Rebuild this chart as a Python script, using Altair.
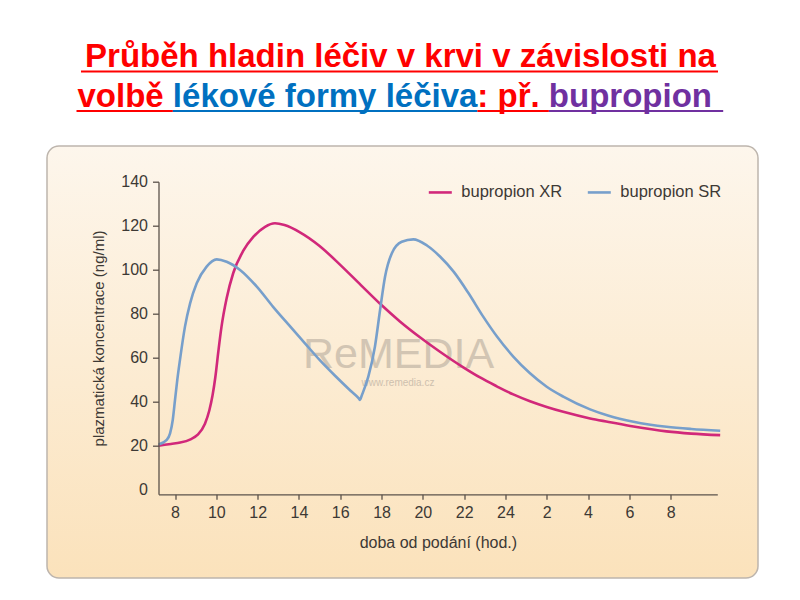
import altair as alt
import pandas as pd

# ---------------- data ----------------
series = ["bupropion XR", "bupropion SR"]
colors = ["#d1287a", "#779fcb"]

hours_xr = [7.2, 7.8, 8.25, 8.75, 9.1, 9.45, 9.66, 9.82, 9.95, 10.1, 10.25, 10.5, 10.82,
            11.3, 11.8, 12.36, 12.84, 13.3, 14.05, 15.0, 16.0, 17.0, 17.93, 18.89, 19.86,
            20.83, 21.96, 22.77, 23.58, 24.38, 25.19, 26.0, 26.8, 28.1, 29.0, 30.2, 31.8, 33.0, 34.4]
vals_xr = [20.0, 20.8, 21.4, 22.9, 25.0, 30.0, 36.0, 43.0, 51.0, 63.0, 74.0, 87.0, 98.5,
           108.5, 115.0, 119.5, 121.1, 120.3, 117.0, 110.8, 102.2, 93.0, 84.5, 76.5, 69.3,
           62.7, 55.6, 51.0, 47.0, 43.3, 40.2, 37.6, 35.4, 32.4, 30.8, 28.7, 26.5, 25.5, 24.8]

hours_sr = [7.2, 7.6, 7.76, 7.89, 8.0, 8.11, 8.24, 8.48, 8.73, 9.05, 9.53, 10.02, 10.5,
            11.15, 11.96, 12.76, 13.5, 14.25, 15.0, 15.75, 16.5, 16.9, 16.96, 17.03, 17.36,
            17.68, 17.93, 18.17, 18.5, 18.98, 19.54, 20.2, 20.83, 21.5, 22.2, 22.9, 23.6,
            24.38, 25.19, 26.0, 26.8, 28.1, 29.0, 30.2, 31.8, 33.0, 34.4]
vals_sr = [20.5, 22.6, 25.6, 31.7, 40.8, 49.9, 59.0, 74.0, 84.7, 93.8, 101.4, 104.7, 103.6,
           99.9, 92.3, 83.0, 75.0, 67.0, 59.0, 51.8, 45.0, 41.5, 40.8, 42.5, 51.4,
           65.0, 81.7, 96.8, 107.5, 112.7, 113.8, 111.0, 106.0, 99.0, 89.5, 79.0, 69.5,
           60.5, 52.9, 46.8, 42.3, 36.5, 33.6, 30.9, 28.6, 27.6, 26.8]

x_ticks = list(range(8, 33, 2))
y_ticks = [0, 20, 40, 60, 80, 100, 120, 140]

x_title = "doba od podání (hod.)"
y_title = "plazmatická koncentrace (ng/ml)"

title_line1 = "Průběh hladin léčiv v krvi v závislosti na"
title_line2 = [("volbě ", "#ff0000"), ("lékové formy léčiva", "#0070c0"),
               (": př. ", "#ff0000"), ("bupropion ", "#7030a0")]
watermark = "ReMEDIA"
watermark_url = "www.remedia.cz"

df = pd.concat([
    pd.DataFrame({"h": hours_xr, "v": vals_xr, "s": series[0]}),
    pd.DataFrame({"h": hours_sr, "v": vals_sr, "s": series[1]}),
], ignore_index=True)

# ---------------- layout (page pixels -> plot pixels) ----------------
OX, OY = 158.5, 181.7          # plot origin on the page
W, H = 558.8, 312.6
PAD_L, PAD_T = OX - 8, OY - 8
PAD_R = 784 - PAD_L - W
PAD_B = 584 - PAD_T - H


def px(x):
    return x - OX


def py(y):
    return y - OY


def one():
    return pd.DataFrame({"k": [0]})


FONT = "Liberation Sans"
AXIS_COLOR = "#5b524b"
TEXT_COLOR = "#3d3935"

# background panel with gradient
panel = alt.Chart(one()).mark_rect(
    color=alt.Gradient(
        gradient="linear",
        stops=[alt.GradientStop(color="#fdf6ec", offset=0),
               alt.GradientStop(color="#fbe2bb", offset=1)],
        x1=0, x2=0, y1=0, y2=1),
    cornerRadius=12, stroke="#bdb5ad", strokeWidth=1.5,
).encode(x=alt.value(px(47)), x2=alt.value(px(758)),
         y=alt.value(py(146)), y2=alt.value(py(578)))

wm1 = alt.Chart(one()).mark_text(
    text=watermark, font=FONT, fontSize=43, color="#a0968c", opacity=0.45,
    align="center", baseline="alphabetic",
).encode(x=alt.value(px(398.5)), y=alt.value(py(368)))
wm2 = alt.Chart(one()).mark_text(
    text=watermark_url, font=FONT, fontSize=10, color="#a0968c", opacity=0.5,
    align="center", baseline="alphabetic",
).encode(x=alt.value(px(398)), y=alt.value(py(386)))

lines = alt.Chart(df).mark_line(strokeWidth=2.6, interpolate="monotone").encode(
    x=alt.X("h:Q",
            scale=alt.Scale(domain=[7.2, 34.26], nice=False, zero=False),
            axis=alt.Axis(values=x_ticks,
                          labelExpr="datum.value > 24 ? '' + (datum.value - 24) : datum.label",
                          grid=False, title=x_title, zindex=1,
                          domainColor=AXIS_COLOR, tickColor=AXIS_COLOR,
                          domainWidth=1.3, tickWidth=1.3, tickSize=5,
                          labelFont=FONT, labelFontSize=16, labelColor=TEXT_COLOR,
                          labelPadding=5,
                          titleFont=FONT, titleFontSize=16, titleFontWeight="normal",
                          titleColor=TEXT_COLOR, titlePadding=14)),
    y=alt.Y("v:Q",
            scale=alt.Scale(domain=[-2.1, 140], nice=False, zero=False),
            axis=alt.Axis(values=y_ticks, grid=False, title=y_title, zindex=1,
                          domainColor=AXIS_COLOR, tickColor=AXIS_COLOR,
                          tickOpacity=alt.condition("datum.value == 0", alt.value(0), alt.value(1)),
                          domainWidth=1.3, tickWidth=1.3, tickSize=6,
                          labelFont=FONT, labelFontSize=16, labelColor=TEXT_COLOR,
                          labelPadding=5,
                          titleFont=FONT, titleFontSize=15, titleFontWeight="normal",
                          titleColor=TEXT_COLOR, titlePadding=14)),
    color=alt.Color("s:N",
                    scale=alt.Scale(domain=series, range=colors),
                    sort=series,
                    legend=alt.Legend(title=None, orient="none",
                                      legendX=px(427.3), legendY=py(190.7) - 11.5,
                                      direction="horizontal", symbolType="stroke",
                                      symbolSize=529, symbolStrokeWidth=2.6,
                                      labelFont=FONT, labelFontSize=16.5,
                                      labelColor=TEXT_COLOR, labelOffset=8,
                                      columnPadding=20)),
)

# ---------------- title (multi-coloured, underlined) ----------------
BOLD_W = {'v': 556, 'o': 611, 'l': 278, 'b': 611, 'ě': 556, ' ': 278, 'é': 556, 'k': 556,
          'f': 333, 'r': 389, 'm': 889, 'y': 556, 'č': 556, 'i': 278, 'a': 556, ':': 333,
          'p': 611, 'ř': 389, '.': 278, 'u': 611, 'n': 611}
TS = 33
RED = "#ff0000"

title_layers = []
title_layers.append(alt.Chart(one()).mark_text(
    text=title_line1, font=FONT, fontSize=TS, fontWeight="bold", color=RED,
    align="center", baseline="alphabetic",
).encode(x=alt.value(px(400.5)), y=alt.value(py(67))))
title_layers.append(alt.Chart(one()).mark_rule(color=RED, strokeWidth=2.2).encode(
    x=alt.value(px(81)), x2=alt.value(px(718)), y=alt.value(py(71.5))))

start = 77.5
xs = [start]
for seg, _ in title_line2:
    xs.append(xs[-1] + sum(BOLD_W.get(c, 556) for c in seg) / 1000 * TS)
for i, (seg, col) in enumerate(title_line2):
    title_layers.append(alt.Chart(one()).mark_text(
        text=seg, font=FONT, fontSize=TS, fontWeight="bold", color=col,
        align="left", baseline="alphabetic",
    ).encode(x=alt.value(px(xs[i])), y=alt.value(py(107))))
    x_end = xs[i + 1] + (2 if i == len(title_line2) - 1 else 0)
    title_layers.append(alt.Chart(one()).mark_rule(color=col, strokeWidth=2.2).encode(
        x=alt.value(px(xs[i] - (1 if i == 0 else 0))), x2=alt.value(px(x_end)),
        y=alt.value(py(111))))

chart = alt.layer(panel, wm1, wm2, lines, *title_layers).properties(
    width=W, height=H,
    autosize=alt.AutoSizeParams(type="none"),
    padding={"left": PAD_L, "top": PAD_T, "right": PAD_R, "bottom": PAD_B},
    background="white",
).configure_view(stroke=None)

chart.save("out.html", embed_options={"renderer": "svg", "actions": False})
